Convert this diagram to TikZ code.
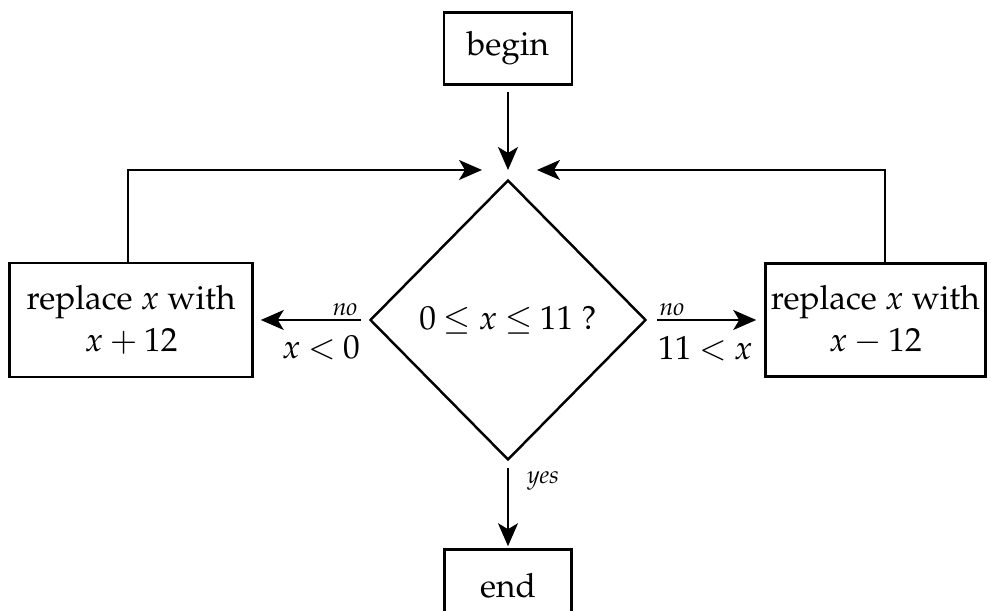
\documentclass[tikz,border=0pt]{standalone}
\usepackage[T1]{fontenc}
\usepackage{mathpazo}
\usetikzlibrary{arrows.meta,positioning,shapes.geometric}
\thickmuskip=4mu plus 2mu

\begin{document}
\begin{tikzpicture}[
  font=\fontsize{19}{24}\selectfont,
  >={Stealth[length=0.46cm, width=0.4cm, inset=0.12cm]},
  box/.style={draw, line width=1.3pt, align=center, inner sep=0pt},
  test/.style={draw, diamond, aspect=1, line width=1.4pt, inner sep=0pt, minimum width=5.52cm, minimum height=5.6cm},
  flow/.style={->, line width=1pt},
  tag/.style={font=\itshape\fontsize{14}{16}\selectfont, inner sep=2pt},
  cond/.style={inner sep=0pt, yshift=-0.3cm}
]
\useasboundingbox (-10.16,-5.82) rectangle (9.66,6.4);

\node[test] (check) at (0,0) {$0 \le x \le 11$ ?};
\node[box, minimum width=2.56cm, minimum height=1.44cm, above=1.86cm of check] (begin) {begin};
\node[box, minimum width=4.86cm, minimum height=2.28cm, left=2.3cm of check] (plus) {replace $x$ with\\$x+12$};
\node[box, minimum width=4.4cm, minimum height=2.26cm, right=2.34cm of check] (minus) {replace $x$ with\\$x-12$};
\node[box, minimum width=2.54cm, minimum height=1.44cm, below=1.74cm of check] (end) {end};

% the three ways back into the test meet above it
\coordinate (join) at (0,3.0);
\coordinate (joinL) at (-0.52,3.0);
\coordinate (joinR) at (0.58,3.0);

\draw[flow, shorten <=0.12cm] (begin) -- (join);
\draw[flow] ([xshift=-0.06cm]plus.north) |- (joinL);
\draw[flow] ([xshift=0.2cm]minus.north) |- (joinR);

\draw[flow, shorten <=0.16cm, shorten >=0.14cm] (check.west) -- (plus.east)
  node[tag, pos=0, above left, xshift=-0.14cm] {no}
  node[cond, pos=0, below left, xshift=-0.16cm] {$x<0$};
\draw[flow, shorten <=0.2cm, shorten >=0.16cm] (check.east) -- (minus.west)
  node[tag, pos=0, above right, xshift=0.16cm] {no}
  node[cond, pos=0, below right, xshift=0.2cm] {$11<x$};
\draw[flow, shorten <=0.14cm, shorten >=0.04cm] (check.south) -- (end.north)
  node[tag, pos=0.22, right, xshift=0.3cm] {yes};

\end{tikzpicture}
\end{document}
